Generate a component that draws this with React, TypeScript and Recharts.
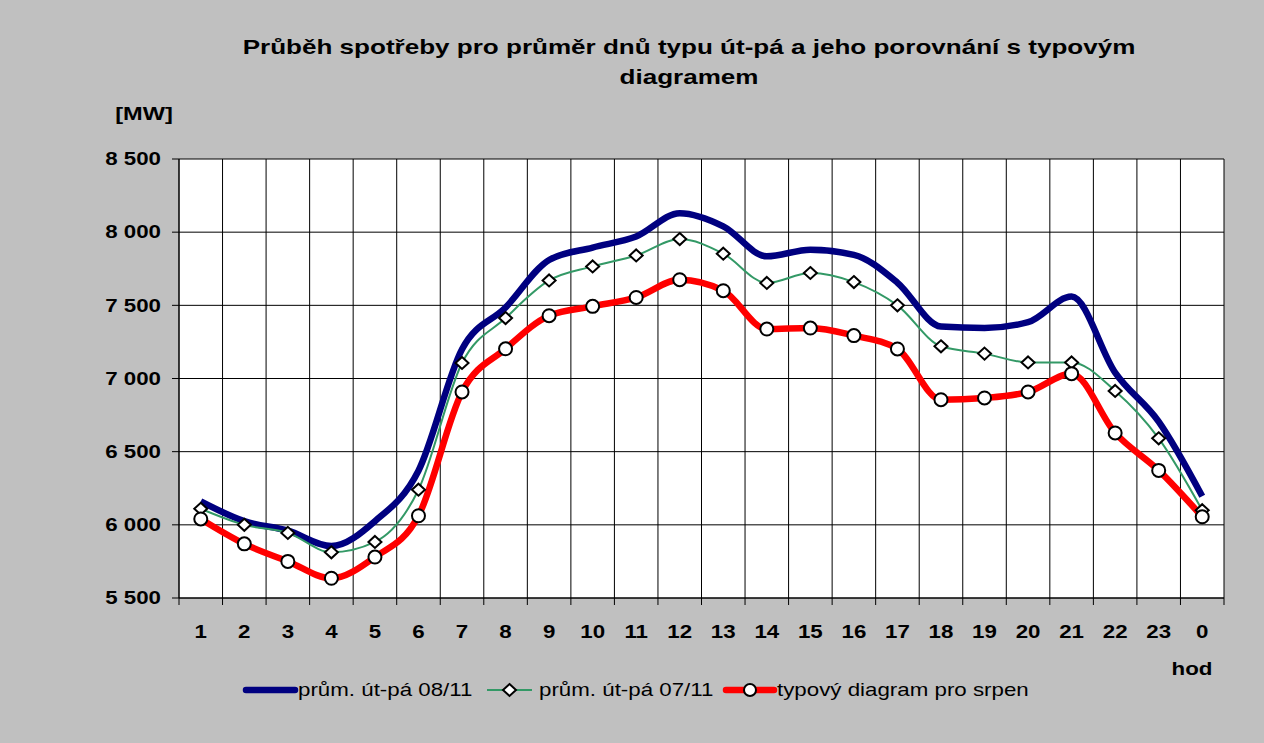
import React from 'react';
import { LineChart, Line, XAxis, YAxis, CartesianGrid, Legend } from 'recharts';

// hodiny dne (1..23, 0)
const hours = ['1', '2', '3', '4', '5', '6', '7', '8', '9', '10', '11', '12', '13', '14', '15', '16', '17', '18', '19', '20', '21', '22', '23', '0'];

// [MW]
const prum0811 = [6160, 6025, 5960, 5855, 6025, 6370, 7200, 7485, 7810, 7895, 7970, 8130, 8040, 7835, 7880, 7845, 7655, 7355, 7345, 7385, 7560, 7040, 6705, 6195];
const prum0711 = [6110, 6000, 5945, 5812, 5883, 6240, 7106, 7413, 7670, 7766, 7841, 7953, 7853, 7653, 7721, 7659, 7500, 7220, 7170, 7110, 7110, 6915, 6591, 6100];
const typovy = [6040, 5870, 5750, 5635, 5780, 6062, 6908, 7203, 7429, 7493, 7554, 7675, 7600, 7338, 7345, 7293, 7202, 6855, 6867, 6908, 7033, 6628, 6372, 6055];

const yTicks = [5500, 6000, 6500, 7000, 7500, 8000, 8500];
const seriesNames = ['prům. út-pá 08/11', 'prům. út-pá 07/11', 'typový diagram pro srpen'];

const data = hours.map((h, i) => ({ hour: h, a: prum0811[i], b: prum0711[i], c: typovy[i] }));

const W = 1264;
const H = 743;
const SX = 1.24; // text in the original is stretched horizontally
const FONT = '"Liberation Sans", Arial, sans-serif';
const margin = { top: 159, right: 40, left: 119, bottom: 105 };
const PLOT_W = W - margin.left - 60 - margin.right;
const BAND = PLOT_W / hours.length;

const fmtMW = (v: number) => `${Math.floor(v / 1000)} ${String(v % 1000).padStart(3, '0')}`;

const XTick = (props: any) => {
  const { x, y, payload, index } = props;
  const half = BAND / 2;
  return (
    <g>
      <line x1={x - half} x2={x - half} y1={y} y2={y + 7} stroke="#000" />
      {index === hours.length - 1 && <line x1={x + half} x2={x + half} y1={y} y2={y + 7} stroke="#000" />}
      <text
        transform={`translate(${x},${y + 34}) scale(${SX},1)`}
        textAnchor="middle"
        dominantBaseline="central"
        fontFamily={FONT}
        fontWeight="bold"
        fontSize={18}
        fill="#000"
      >
        {payload.value}
      </text>
    </g>
  );
};

const YTick = (props: any) => {
  const { x, y, payload } = props;
  return (
    <text
      transform={`translate(${x},${y}) scale(${SX},1)`}
      textAnchor="end"
      dominantBaseline="central"
      fontFamily={FONT}
      fontWeight="bold"
      fontSize={18}
      fill="#000"
    >
      {fmtMW(payload.value)}
    </text>
  );
};

const Diamond = (props: any) => {
  const { cx, cy, index } = props;
  if (cx == null || cy == null) return <g key={`d-${index}`} />;
  return (
    <path
      key={`d-${index}`}
      d={`M${cx},${cy - 6} L${cx + 6.5},${cy} L${cx},${cy + 6} L${cx - 6.5},${cy} Z`}
      fill="#fff"
      stroke="#000"
      strokeWidth={2}
    />
  );
};

const renderLegend = () => {
  const items = [
    { x: 246, len: 49, tx: 298 },
    { x: 487, len: 45, tx: 539 },
    { x: 726, len: 48, tx: 777 },
  ];
  const cy = 20;
  return (
    <svg width={W} height={40}>
      {/* blue */}
      <line x1={items[0].x} x2={items[0].x + items[0].len} y1={cy} y2={cy} stroke="#000080" strokeWidth={6.5} strokeLinecap="round" />
      {/* green + diamond */}
      <line x1={items[1].x} x2={items[1].x + items[1].len} y1={cy} y2={cy} stroke="#339966" strokeWidth={2} />
      <Diamond cx={items[1].x + items[1].len / 2} cy={cy} index={0} />
      {/* red + circle */}
      <line x1={items[2].x} x2={items[2].x + items[2].len} y1={cy} y2={cy} stroke="#ff0000" strokeWidth={6.5} strokeLinecap="round" />
      <circle cx={items[2].x + items[2].len / 2} cy={cy} r={6} fill="#fff" stroke="#000" strokeWidth={2} />
      {seriesNames.map((name, i) => (
        <text
          key={name}
          transform={`translate(${items[i].tx},${cy}) scale(${SX},1)`}
          textAnchor="start"
          dominantBaseline="central"
          fontFamily={FONT}
          fontSize={18}
          fill="#000"
        >
          {name}
        </text>
      ))}
    </svg>
  );
};

const textBox = (extra: React.CSSProperties): React.CSSProperties => ({
  position: 'absolute',
  fontFamily: FONT,
  fontWeight: 'bold',
  color: '#000',
  whiteSpace: 'nowrap',
  ...extra,
});

export default function App() {
  return (
    <div style={{ position: 'absolute', left: 0, top: 0, width: W, height: H, background: '#c0c0c0', overflow: 'hidden' }}>
      <div
        style={textBox({
          left: 89,
          top: 32,
          width: 1200,
          textAlign: 'center',
          fontSize: 21,
          lineHeight: '30px',
          transform: `scaleX(${SX})`,
          transformOrigin: '600px 0',
        })}
      >
        Průběh spotřeby pro průměr dnů typu út-pá a jeho porovnání s typovým
        <br />
        diagramem
      </div>
      <div
        style={textBox({
          left: 44,
          top: 102,
          width: 200,
          textAlign: 'center',
          fontSize: 19,
          lineHeight: '24px',
          transform: `scaleX(${SX})`,
          transformOrigin: '100px 0',
        })}
      >
        [MW]
      </div>
      <div
        style={textBox({
          left: 1092,
          top: 657,
          width: 200,
          textAlign: 'center',
          fontSize: 18,
          lineHeight: '24px',
          transform: `scaleX(${SX})`,
          transformOrigin: '100px 0',
        })}
      >
        hod
      </div>
      <LineChart width={W} height={H} data={data} margin={margin} style={{ position: 'absolute', left: 0, top: 0 }}>
        <CartesianGrid
          stroke="#000"
          fill="#fff"
          fillOpacity={1}
          verticalCoordinatesGenerator={({ offset }: any) =>
            hours.map((_, i) => offset.left + (i * offset.width) / hours.length).concat(offset.left + offset.width)
          }
        />
        <XAxis
          dataKey="hour"
          height={40}
          interval={0}
          padding={{ left: BAND / 2, right: BAND / 2 }}
          tickSize={0}
          tickMargin={0}
          tickLine={false}
          axisLine={{ stroke: '#000' }}
          tick={<XTick />}
        />
        <YAxis
          width={60}
          domain={[5500, 8500]}
          ticks={yTicks}
          interval={0}
          tickSize={7}
          tickMargin={11}
          tickLine={{ stroke: '#000' }}
          axisLine={{ stroke: '#000' }}
          tick={<YTick />}
        />
        <Legend
          layout="horizontal"
          verticalAlign="middle"
          align="center"
          content={renderLegend}
          wrapperStyle={{ left: 0, top: 670, width: W, height: 40 }}
        />
        <Line
          type="monotone"
          dataKey="a"
          name={seriesNames[0]}
          stroke="#000080"
          strokeWidth={6.5}
          dot={false}
          activeDot={false}
          isAnimationActive={false}
        />
        <Line
          type="monotone"
          dataKey="b"
          name={seriesNames[1]}
          stroke="#339966"
          strokeWidth={2}
          dot={Diamond}
          activeDot={false}
          isAnimationActive={false}
        />
        <Line
          type="monotone"
          dataKey="c"
          name={seriesNames[2]}
          stroke="#ff0000"
          strokeWidth={6.5}
          dot={{ r: 6.5, fill: '#fff', stroke: '#000', strokeWidth: 2 }}
          activeDot={false}
          isAnimationActive={false}
        />
      </LineChart>
    </div>
  );
}
